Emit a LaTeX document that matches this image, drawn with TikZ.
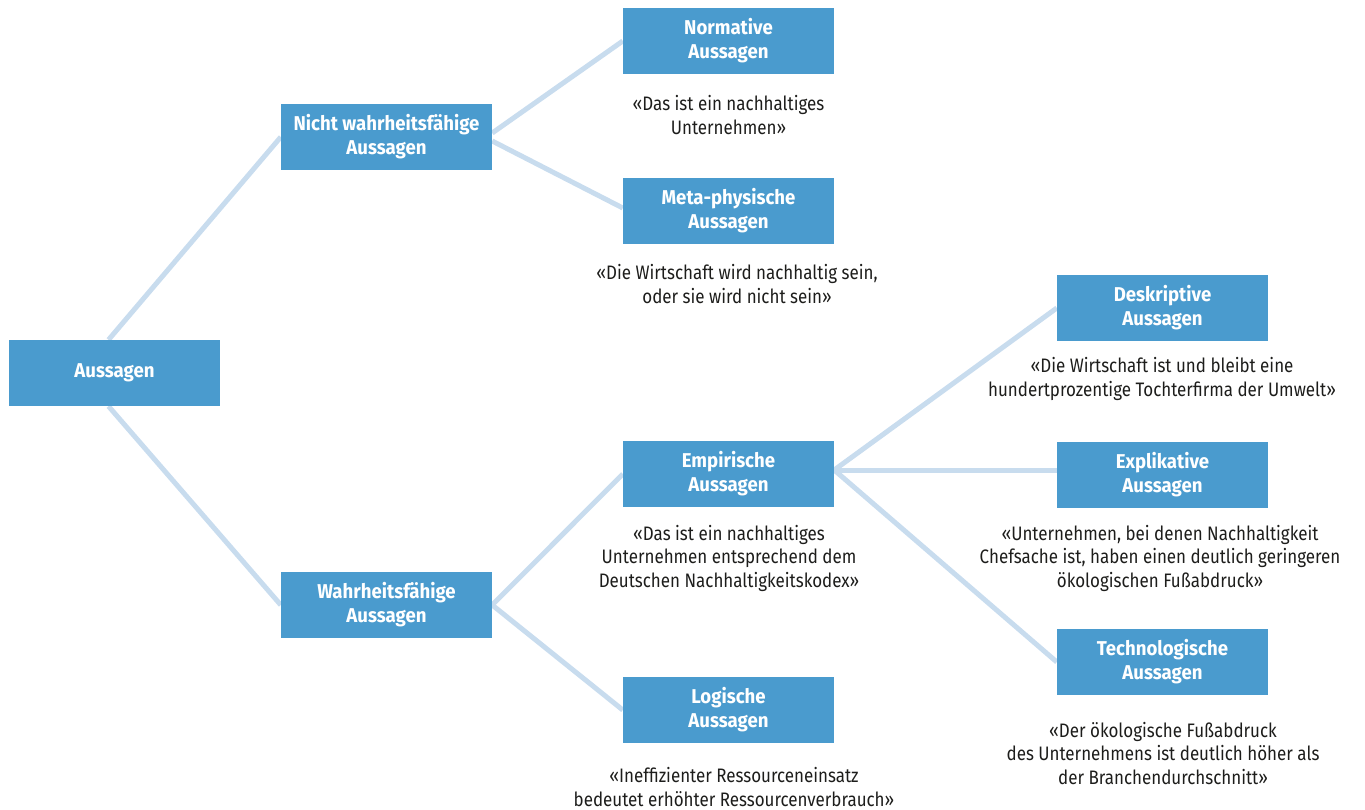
\documentclass[tikz,border=0pt]{standalone}
\usepackage{fontspec}
\setmainfont{Fira Sans}[FakeStretch=0.87, BoldFeatures={FakeStretch=0.93}]
\definecolor{boxblue}{HTML}{4A9BCE}
\definecolor{linkblue}{HTML}{C8DCEE}
\definecolor{quotetext}{HTML}{1D1D1B}
\begin{document}
\begin{tikzpicture}[x=1pt,y=-1pt,
  box/.style={rectangle, fill=boxblue, minimum width=211pt, minimum height=66pt, inner sep=0pt,
    text=white, align=center, font=\fontsize{20}{24}\selectfont\bfseries},
  quote/.style={align=center, inner sep=0pt, text=quotetext, font=\fontsize{19.5}{23.5}\selectfont},
  link/.style={draw=linkblue, line width=5pt}]
\useasboundingbox (0,0) rectangle (1365,809);
\node[box] (A) at (114.5,373) {Aussagen};
\node[box] (N) at (386.5,137) {Nicht wahrheitsfähige\\Aussagen};
\node[box] (W) at (386.5,605) {Wahrheitsfähige\\Aussagen};
\node[box] (NO) at (728.5,41) {Normative\\Aussagen};
\node[box] (ME) at (728.5,211) {Meta-physische\\Aussagen};
\node[box] (EM) at (728.5,474) {Empirische\\Aussagen};
\node[box] (LO) at (728.5,710) {Logische\\Aussagen};
\node[box] (DE) at (1162.5,308) {Deskriptive\\Aussagen};
\node[box] (EX) at (1162.5,475) {Explikative\\Aussagen};
\node[box] (TE) at (1162.5,662) {Technologische\\Aussagen};
\coordinate (EMr) at ([yshift=4pt]EM.east);
\draw[link] ([xshift=-6pt]A.north) -- (N.west);
\draw[link] ([xshift=-6pt]A.south) -- (W.west);
\draw[link] ([yshift=4pt]N.east) -- (NO.west);
\draw[link] ([yshift=-4pt]N.east) -- ([yshift=3pt]ME.west);
\draw[link] (W.east) -- (EM.west);
\draw[link] (W.east) -- (LO.west);
\draw[link] (EMr) -- (DE.west);
\draw[link] (EMr) -- (EMr -| EX.west);
\draw[link] (EMr) -- (TE.west);
% redraw boxes on top of connectors
\node[box] at (A) {Aussagen};
\node[box] at (N) {Nicht wahrheitsfähige\\Aussagen};
\node[box] at (W) {Wahrheitsfähige\\Aussagen};
\node[box] at (NO) {Normative\\Aussagen};
\node[box] at (ME) {Meta-physische\\Aussagen};
\node[box] at (EM) {Empirische\\Aussagen};
\node[box] at (LO) {Logische\\Aussagen};
\node[box] at (DE) {Deskriptive\\Aussagen};
\node[box] at (EX) {Explikative\\Aussagen};
\node[box] at (TE) {Technologische\\Aussagen};
% quotes
\node[quote] (qNO) at (728.5,115) {«Das ist ein nachhaltiges\\Unternehmen»};
\node[quote] (qME) at (737,284) {«Die Wirtschaft wird nachhaltig sein,\\oder sie wird nicht sein»};
\node[quote] (qDE) at (1162,379) {«Die Wirtschaft ist und bleibt eine\\hundertprozentige Tochterfirma der Umwelt»};
\node[quote] (qEM) at (729,558) {«Das ist ein nachhaltiges\\Unternehmen entsprechend dem\\Deutschen Nachhaltigkeitskodex»};
\node[quote] (qEX) at (1160,558) {«Unternehmen, bei denen Nachhaltigkeit\\Chefsache ist, haben einen deutlich geringeren\\ökologischen Fußabdruck»};
\node[quote] (qLO) at (734,787) {«Ineffizienter Ressourceneinsatz\\bedeutet erhöhter Ressourcenverbrauch»};
\node[quote] (qTE) at (1163,753) {«Der ökologische Fußabdruck\\des Unternehmens ist deutlich höher als\\der Branchendurchschnitt»};
\end{tikzpicture}
\end{document}
